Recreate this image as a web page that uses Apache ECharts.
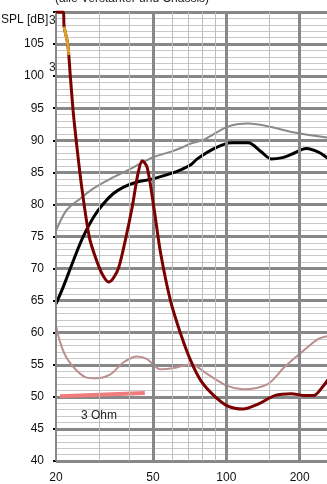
<!DOCTYPE html>
<html><head><meta charset="utf-8">
<script src="https://cdn.jsdelivr.net/npm/echarts@6/dist/echarts.min.js"></script>
<style>html,body{margin:0;padding:0;background:#fff}#c{width:327px;height:484px}</style>
</head><body><div id="c"></div>
<script>
// Grid / tick definitions
const freqMajor = [20, 50, 100, 200];
const freqMinor = [30, 40, 60, 70, 80, 90, 150];

// Impedance-like dark red curve
const redF  = [20, 21.4, 21.6, 22.35, 22.9, 23.5, 24.2, 25.5, 27.4, 29.0, 30.9, 32.9, 34.5, 36.2, 38.5, 41.1, 43.4, 45.2, 47.3, 50.4, 53.7, 59, 65, 71.5, 78.7, 89, 101, 117, 135.6, 158, 185, 210, 228, 250, 263];
const redDb = [110, 110, 107.7, 105, 100, 94.7, 90, 82.7, 74.9, 71.8, 69.2, 67.9, 68.6, 70.2, 74.4, 79.6, 84.8, 86.8, 85.8, 79.6, 72.5, 65, 59.8, 55.6, 52.5, 50.2, 48.6, 48.1, 48.9, 50.2, 50.5, 50.2, 50.2, 51.7, 52.8];

// Orange highlighted segment of the dark red curve
const orangeF  = [21.6, 22.35, 22.6];
const orangeDb = [107.7, 105, 103.3];

// Black SPL curve
const blackF  = [20, 21.4, 23.6, 25.8, 28.5, 31.3, 34.4, 37.9, 43, 48.9, 59, 65, 71.5, 76, 89, 105, 123, 139, 153, 170, 185, 213, 240, 263];
const blackDb = [64.5, 67.1, 71.3, 74.9, 78, 80.1, 81.7, 82.7, 83.5, 83.9, 84.8, 85.4, 86.2, 87.1, 88.7, 89.6, 89.6, 88.2, 87.1, 87.3, 87.8, 88.7, 88.1, 87.1];

// Gray curve
const grayF  = [20, 22.1, 25.1, 28.5, 33.4, 39.3, 44.5, 50.4, 59, 65, 71.5, 81, 101, 123, 148, 185, 263];
const grayDb = [75.9, 79.1, 80.9, 82.5, 84, 85.3, 86.4, 87.4, 88.2, 88.8, 89.5, 90.1, 92.1, 92.6, 92.2, 91.3, 90.4];

// Rosy brown curve
const rosyF  = [20, 20.8, 22.1, 24.3, 26.7, 29.4, 33.4, 37.9, 43, 47.3, 53.7, 61, 71.5, 84, 101, 117, 148, 173, 203, 238, 263];
const rosyDb = [61.1, 58.5, 56.1, 54.1, 53, 52.9, 53.5, 55.4, 56.3, 55.9, 54.3, 54.5, 55.1, 53.5, 51.7, 51.2, 52, 54.6, 56.9, 59, 59.5];

// Salmon reference line (3 Ohm)
const salmonF  = [20.8, 46.3];
const salmonDb = [50.1, 50.6];

const zip = (a, b) => a.map((v, i) => [v, b[i]]);
const FONT = '"Liberation Sans", Arial, sans-serif';

const chart = echarts.init(document.getElementById('c'), null, {renderer: 'canvas'});
chart.setOption({
  animation: false,
  backgroundColor: '#fff',
  grid: {left: 56, right: 0, top: 12, bottom: 23, containLabel: false},
  xAxis: {
    type: 'log', logBase: 10, min: 20, max: 259,
    axisLine: {show: false}, axisTick: {show: false},
    axisLabel: {show: false}, splitLine: {show: false}
  },
  yAxis: {
    type: 'value', min: 40, max: 110, interval: 5,
    axisLine: {show: true, lineStyle: {color: '#888', width: 2}},
    axisTick: {show: true, length: 3, lineStyle: {color: '#000', width: 2}},
    axisLabel: {color: '#111', fontSize: 12, fontFamily: FONT, margin: 12,
      formatter: v => (v === 110 ? '' : String(v))},
    splitLine: {show: true, lineStyle: {color: '#888', width: 3}},
    minorTick: {show: false, splitNumber: 5},
    minorSplitLine: {show: true, lineStyle: {color: '#c8c8c8', width: 1}}
  },
  graphic: [
    {type: 'text', x: 55, y: 5, silent: true,
      style: {text: '(alle Verstärker und Chassis)', font: '12px ' + FONT, fill: '#222', align: 'left', verticalAlign: 'bottom'}},
    {type: 'text', x: 1, y: 20, silent: true,
      style: {text: 'SPL [dB]', font: '12px ' + FONT, fill: '#111', align: 'left', verticalAlign: 'middle'}},
    {type: 'text', x: 49, y: 21, silent: true,
      style: {text: '3', font: '12px ' + FONT, fill: '#222', align: 'left', verticalAlign: 'middle'}},
    {type: 'text', x: 49, y: 68, silent: true,
      style: {text: '3', font: '12px ' + FONT, fill: '#222', align: 'left', verticalAlign: 'middle'}},
    {type: 'text', x: 99, y: 416, silent: true, z: 10,
      style: {text: '3 Ohm', font: '12px ' + FONT, fill: '#222', align: 'center', verticalAlign: 'middle'}}
  ],
  series: [
    {
      name: 'grid', type: 'line', z: 1, silent: true, data: [[20, 40]],
      symbol: 'none', lineStyle: {opacity: 0},
      markLine: {
        silent: true, symbol: 'none', animation: false,
        data: [
          ...freqMinor.map(f => ({xAxis: f, lineStyle: {color: '#bdbdbd', width: 1, type: 'solid'}, label: {show: false}})),
          ...freqMajor.map(f => ({xAxis: f, lineStyle: {color: '#888', width: f === 20 ? 2 : 3, type: 'solid'},
            label: {show: true, position: 'start', distance: 11, formatter: String(f), color: '#111', fontSize: 12, fontFamily: FONT}}))
        ]
      }
    },
    {name: 'rosy', type: 'line', data: zip(rosyF, rosyDb), smooth: 0.3, symbol: 'none', z: 3,
      lineStyle: {color: '#bc8f8f', width: 2}},
    {name: 'salmon', type: 'line', data: zip(salmonF, salmonDb), symbol: 'none', z: 3,
      lineStyle: {color: '#f07c7c', width: 4}},
    {name: 'gray', type: 'line', data: zip(grayF, grayDb), smooth: 0.3, symbol: 'none', z: 3,
      lineStyle: {color: '#8a8a8a', width: 2}},
    {name: 'black', type: 'line', data: zip(blackF, blackDb), smooth: 0.3, symbol: 'none', z: 4,
      lineStyle: {color: '#000', width: 3}},
    {name: 'red', type: 'line', data: zip(redF, redDb), smooth: 0.3, symbol: 'none', z: 5,
      lineStyle: {color: '#7b0000', width: 3}},
    {name: 'orange', type: 'line', data: zip(orangeF, orangeDb), symbol: 'none', z: 6,
      lineStyle: {color: '#dca12a', width: 3}}
  ]
});
</script>
</body></html>
